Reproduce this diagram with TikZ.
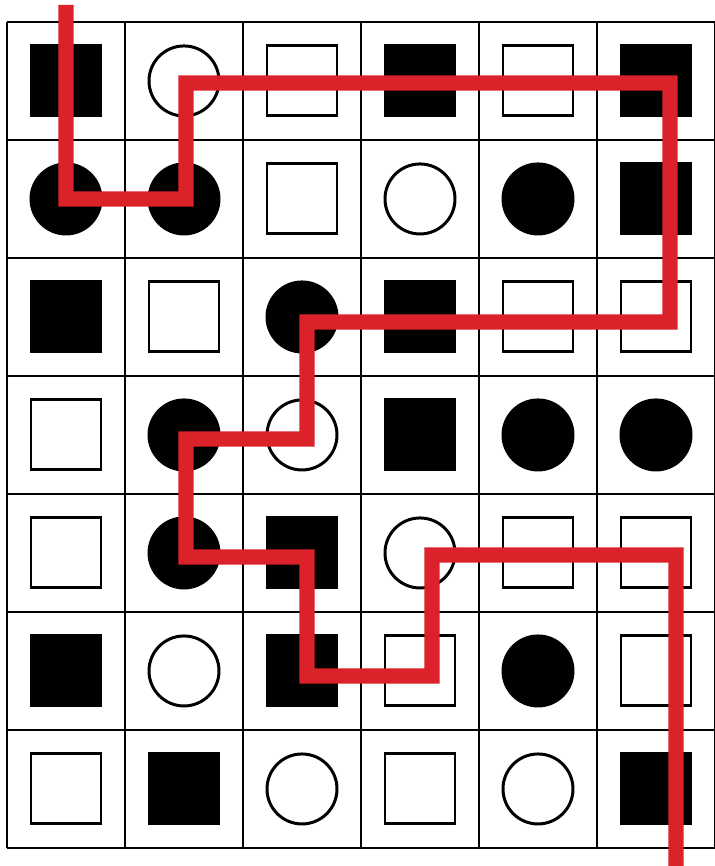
\documentclass[tikz,border=0pt]{standalone}
\usepackage{xcolor}
\usepackage{tikz}
\usetikzlibrary{positioning}

\definecolor{routered}{RGB}{219,33,41}

\begin{document}
\begin{tikzpicture}[
  x=1.18cm, y=-1.18cm,
  gridline/.style={line width=0.7pt},
  shF/.style={draw, fill=black, rectangle, minimum size=7mm, inner sep=0pt, line width=0.85pt},
  shB/.style={draw, fill=white, rectangle, minimum size=7mm, inner sep=0pt, line width=0.85pt},
  shD/.style={draw, fill=black, circle, minimum size=7mm, inner sep=0pt, line width=0.85pt},
  shO/.style={draw, fill=white, circle, minimum size=7mm, inner sep=0pt, line width=0.85pt},
  route/.style={draw=routered, line width=4.3pt}
]
\useasboundingbox (-0.0593,-0.186) rectangle (5.996,7.153);

\foreach \i in {0,...,6}
  \draw[gridline] (\i,0) -- (\i,7);
\foreach \j in {0,...,7}
  \draw[gridline] (0,\j) -- (6,\j);

\foreach \r/\row in {0/{F,O,B,F,B,F}, 1/{D,D,B,O,D,F}, 2/{F,B,D,F,B,B},
                     3/{B,D,O,F,D,D}, 4/{B,D,F,O,B,B}, 5/{F,O,F,B,D,B},
                     6/{B,F,O,B,O,F}}
  \foreach \k [count=\c from 0] in \row
    \node[sh\k] (c-\r-\c) at (\c+0.5,\r+0.5) {};

\coordinate (entry) at (0.5,-0.144);
\coordinate (exit) at (5.669,7.2);

\draw[route] (entry) -- (c-1-0.center)
  -- ([xshift=0.2mm]c-1-1.center)
  -- ([xshift=0.2mm, yshift=-0.2mm]c-0-1.center)
  -- ([xshift=1.4mm, yshift=-0.2mm]c-0-5.center)
  -- ([xshift=1.4mm, yshift=-0.5mm]c-2-5.center)
  -- ([xshift=0.5mm, yshift=-0.5mm]c-2-2.center)
  -- ([xshift=0.5mm, yshift=-0.4mm]c-3-2.center)
  -- ([xshift=0.2mm, yshift=-0.4mm]c-3-1.center)
  -- ([xshift=0.2mm, yshift=-0.4mm]c-4-1.center)
  -- ([xshift=0.5mm, yshift=-0.4mm]c-4-2.center)
  -- ([xshift=0.5mm, yshift=-0.5mm]c-5-2.center)
  -- ([xshift=1.2mm, yshift=-0.5mm]c-5-3.center)
  -- ([xshift=1.2mm, yshift=-0.2mm]c-4-3.center)
  -- ([xshift=2mm, yshift=-0.2mm]c-4-5.center)
  -- (exit);
\end{tikzpicture}
\end{document}
